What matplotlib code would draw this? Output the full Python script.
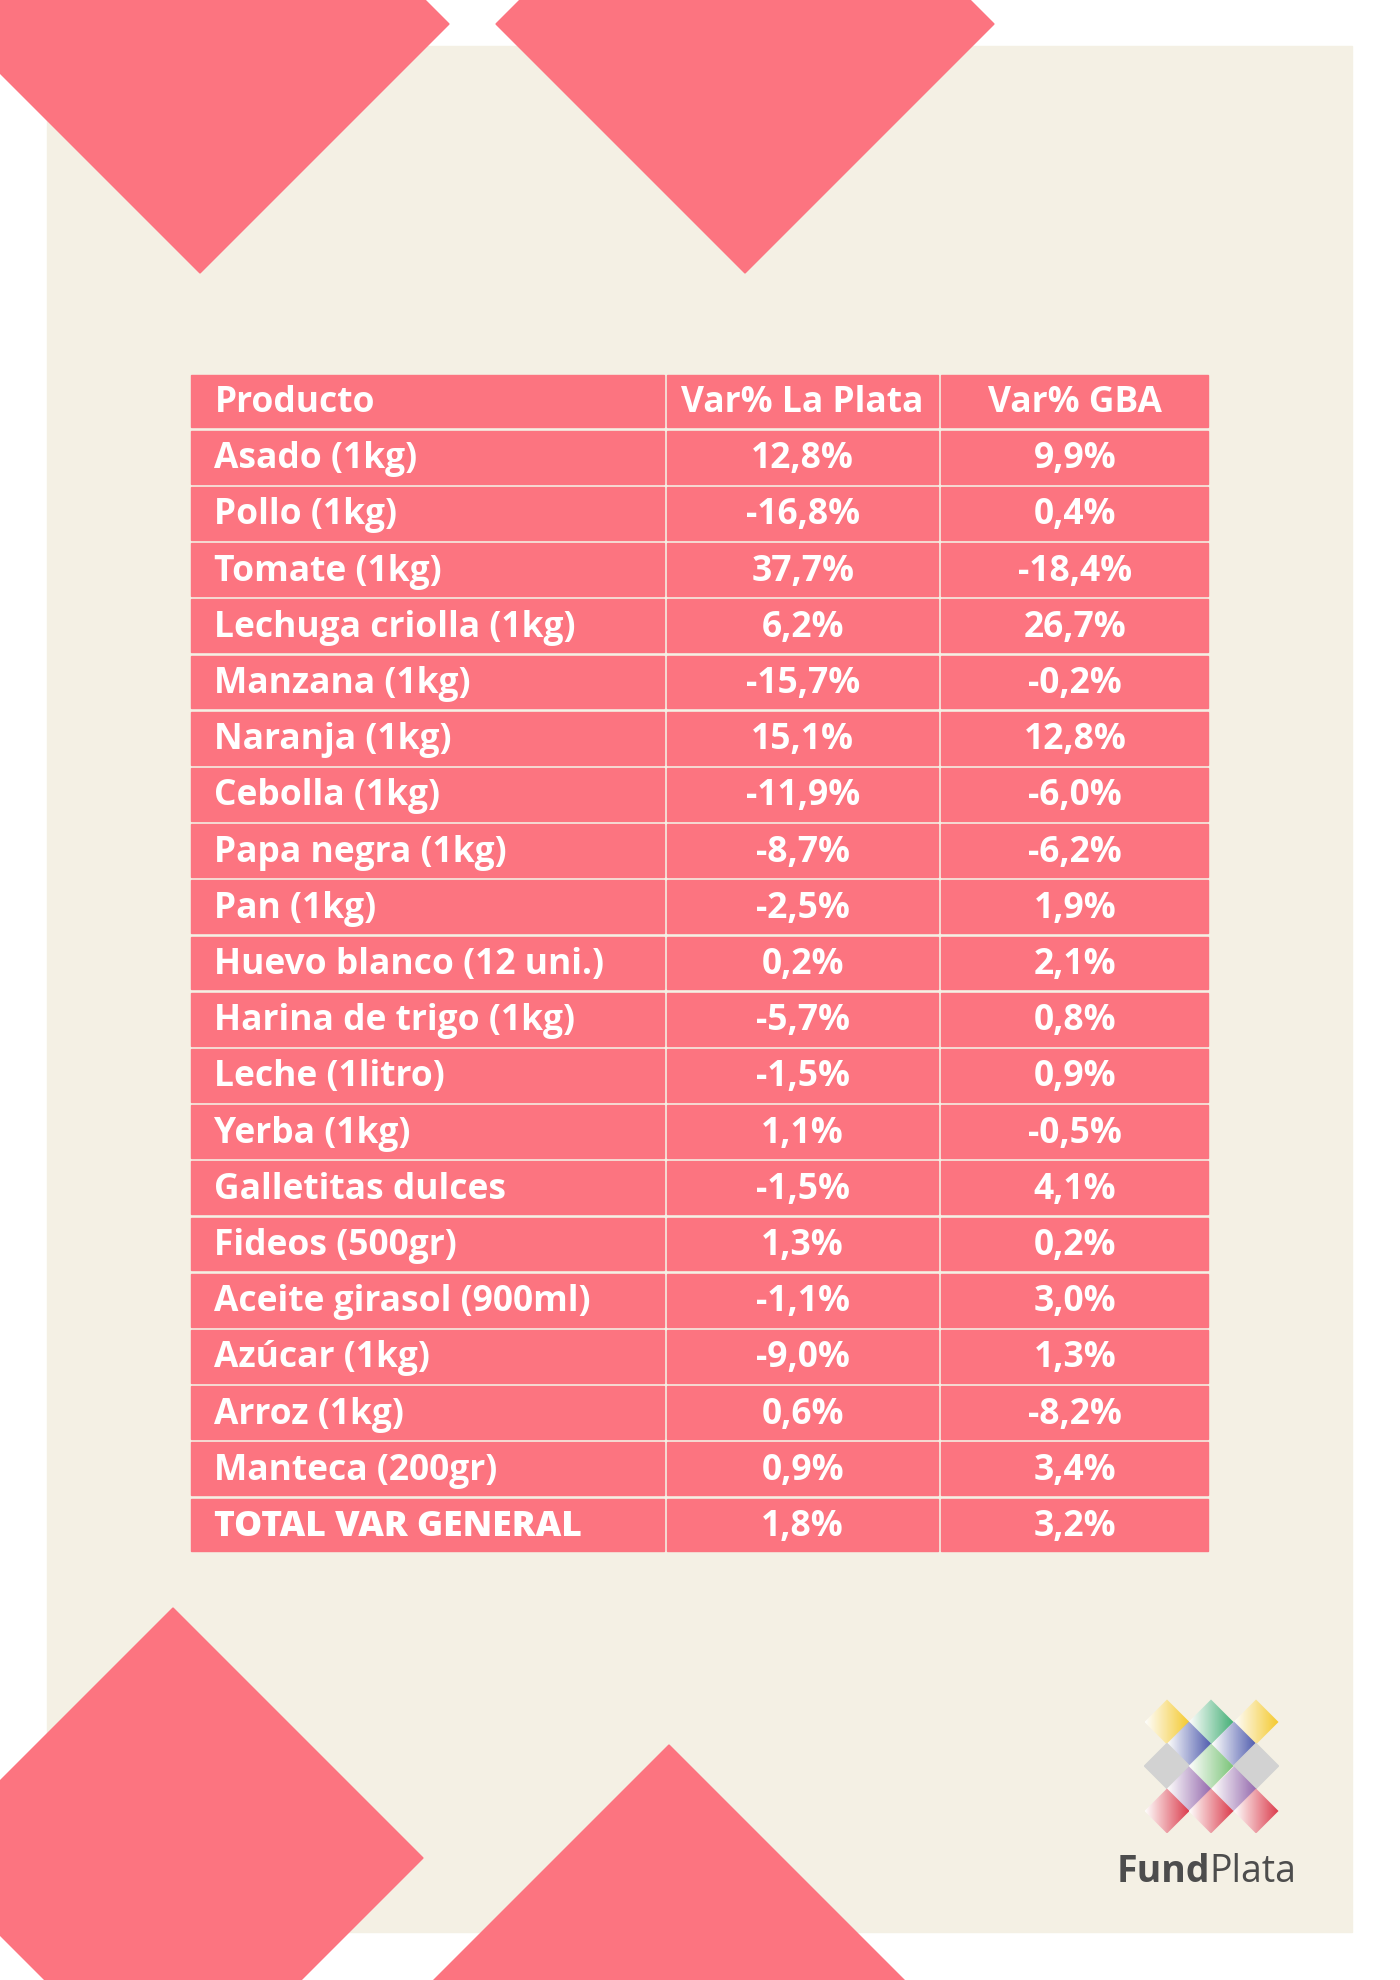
import numpy as np
import matplotlib.pyplot as plt
from matplotlib.patches import Polygon, Rectangle
from matplotlib.colors import LinearSegmentedColormap

productos = ["Asado (1kg)", "Pollo (1kg)", "Tomate (1kg)", "Lechuga criolla (1kg)",
             "Manzana (1kg)", "Naranja (1kg)", "Cebolla (1kg)", "Papa negra (1kg)",
             "Pan (1kg)", "Huevo blanco (12 uni.)", "Harina de trigo (1kg)",
             "Leche (1litro)", "Yerba (1kg)", "Galletitas dulces", "Fideos (500gr)",
             "Aceite girasol (900ml)", "Azúcar (1kg)", "Arroz (1kg)", "Manteca (200gr)",
             "TOTAL VAR GENERAL"]
var_la_plata = [12.8, -16.8, 37.7, 6.2, -15.7, 15.1, -11.9, -8.7, -2.5, 0.2, -5.7,
                -1.5, 1.1, -1.5, 1.3, -1.1, -9.0, 0.6, 0.9, 1.8]
var_gba = [9.9, 0.4, -18.4, 26.7, -0.2, 12.8, -6.0, -6.2, 1.9, 2.1, 0.8, 0.9, -0.5,
           4.1, 0.2, 3.0, 1.3, -8.2, 3.4, 3.2]
headers = ["Producto", "Var% La Plata", "Var% GBA"]

PINK = "#fc7480"
BEIGE = "#f4f0e4"

fig = plt.figure(figsize=(14, 19.81), dpi=100)
ax = fig.add_axes([0, 0, 1, 1])
ax.set_xlim(0, 1400)
ax.set_ylim(1981, 0)
ax.axis("off")

ax.add_patch(Rectangle((47, 47), 1305, 1886, color=BEIGE, zorder=0))

def diamond(cx, cy, h, **kw):
    return Polygon([(cx - h, cy), (cx, cy - h), (cx + h, cy), (cx, cy + h)], closed=True, **kw)

for cx, cy, h in [(200, 25, 249), (745, 25, 249), (173, 1859, 250), (669, 1995, 249)]:
    ax.add_patch(diamond(cx, cy, h, color=PINK, zorder=1, clip_on=True))

# table
s = 1.263
cols = [150 * s, 527 * s, 744 * s, 958 * s]
top = 296 * s
rh = 44.5 * s
gap = 3.5

def fmt(v):
    return ("%.1f%%" % v).replace(".", ",")

rows = [headers] + [[p, fmt(a), fmt(b)] for p, a, b in zip(productos, var_la_plata, var_gba)]
fs = 25.5
for i, row in enumerate(rows):
    y0 = top + i * rh
    for j in range(3):
        ax.add_patch(Rectangle((cols[j] + gap / 2, y0 + gap / 2), cols[j + 1] - cols[j] - gap,
                               rh - gap, color=PINK, zorder=2))
        if j == 0:
            ax.text(cols[0] + 25, y0 + rh / 2 + 1, row[0], color="white", fontsize=fs,
                    fontweight="heavy" if i == len(rows) - 1 else "bold",
                    family="Open Sans", ha="left", va="center", zorder=3)
        else:
            ax.text((cols[j] + cols[j + 1]) / 2, y0 + rh / 2 + 1, row[j], color="white",
                    fontsize=fs, fontweight="bold", family="Open Sans",
                    ha="center", va="center", zorder=3)

# logo
logo = [
    (1167, 1723, "#f5c518"), (1211, 1723, "#2fa86a"), (1256, 1723, "#f5c518"),
    (1189, 1745, "#3b4aa8"), (1234, 1745, "#3b4aa8"),
    (1167, 1767, "#d2d2d2"), (1211, 1767, "#6cbf6c"), (1256, 1767, "#d2d2d2"),
    (1189, 1790, "#8a5aa8"), (1234, 1790, "#8a5aa8"),
    (1167, 1812, "#d9263a"), (1211, 1812, "#d9263a"), (1256, 1812, "#d9263a"),
]
hd = 22.5
grad = np.linspace(0, 1, 64).reshape(1, -1)
for cx, cy, c in logo:
    if c == "#d2d2d2":
        ax.add_patch(diamond(cx, cy, hd, color=c, zorder=4))
        continue
    cmap = LinearSegmentedColormap.from_list("g", ["white", c])
    im = ax.imshow(grad, cmap=cmap, extent=(cx - hd, cx + hd, cy + hd, cy - hd),
                   zorder=4, alpha=0.9, aspect="auto")
    p = diamond(cx, cy, hd, facecolor="none", edgecolor="none")
    ax.add_patch(p)
    im.set_clip_path(p)
ax.set_xlim(0, 1400)
ax.set_ylim(1981, 0)

t1 = ax.text(1117, 1872, "Fund", color="#4d4d4d", fontsize=27, fontweight="bold",
             family="Open Sans", ha="left", va="center", zorder=4)
fig.canvas.draw()
bb = t1.get_window_extent().transformed(ax.transData.inverted())
ax.text(bb.x1 - 1, 1872, "Plata", color="#4d4d4d", fontsize=27,
        family="Open Sans", ha="left", va="center", zorder=4)

fig.savefig("out.png", dpi=100, facecolor="white")
